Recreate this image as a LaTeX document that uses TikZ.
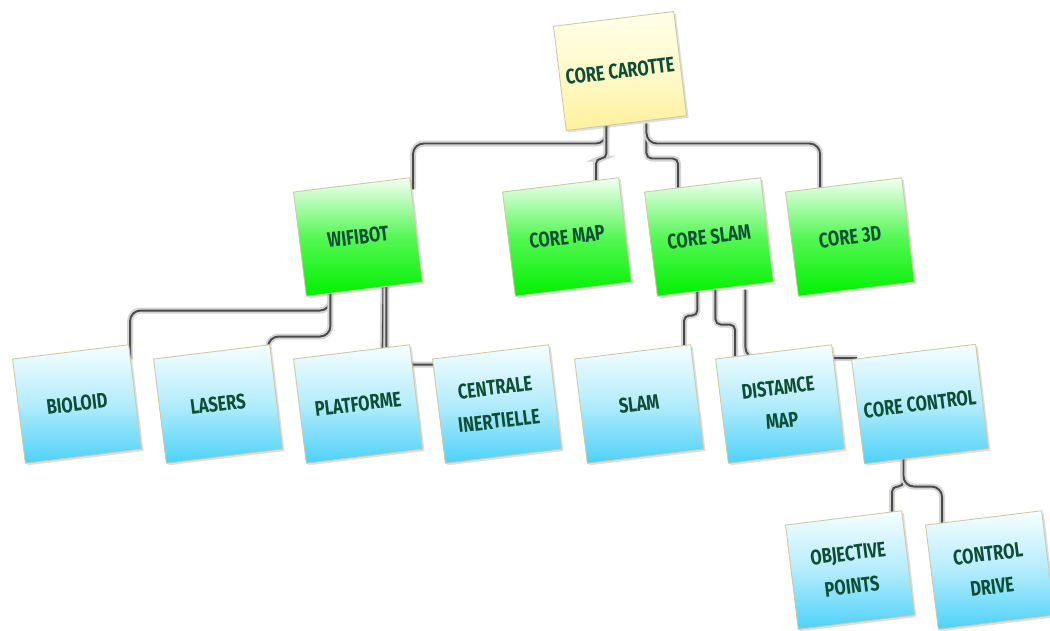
\documentclass[tikz,border=0pt]{standalone}
\usepackage{fontspec}
\newfontfamily\notefont[FakeStretch=0.78]{Fira Sans}
\usepackage{tikz}
\usetikzlibrary{calc, shadows, backgrounds}

\definecolor{notetext}{HTML}{0E4E35}
\definecolor{noteborder}{HTML}{CFC8A6}
\definecolor{yellowtop}{HTML}{FFFEE8}
\definecolor{yellowmid}{HTML}{FFFACB}
\definecolor{yellowbot}{HTML}{FFF09E}
\definecolor{greentop}{HTML}{F4FFF4}
\definecolor{greenmid}{HTML}{55F855}
\definecolor{greenbot}{HTML}{00F000}
\definecolor{bluetop}{HTML}{F6FEFF}
\definecolor{bluemid}{HTML}{B4ECFC}
\definecolor{bluebot}{HTML}{4CD2F9}
\definecolor{linkcore}{HTML}{4A4A4A}
\definecolor{linkhalo}{HTML}{D4D4D4}

\begin{document}
\begin{tikzpicture}[
  x=0.02cm, y=-0.02cm,
  font=\notefont\bfseries\fontsize{12}{19}\selectfont,
  note/.style = {draw=noteborder, line width=0.5pt, rotate=7, minimum width=2.34cm, minimum height=2.1cm,
    align=center, text=notetext, shading=axis, drop shadow={shadow xshift=1.2pt, shadow yshift=-1.2pt, opacity=.25}},
  root/.style = {note, top color=yellowtop, bottom color=yellowbot, middle color=yellowmid},
  module/.style = {note, top color=greentop, bottom color=greenbot, middle color=greenmid},
  part/.style = {note, top color=bluetop, bottom color=bluebot, middle color=bluemid},
  link/.style = {draw=linkcore, line width=1.1pt, rounded corners=6pt, preaction={draw=linkhalo, line width=3.4pt}},
  jog/.style = {link, rounded corners=3pt}
  ]
  \useasboundingbox (0,0) rectangle (1050,631);

  \node[root] (carotte) at (620,71) {CORE CAROTTE};

  \node[module] (wifibot) at (358,237) {WIFIBOT};
  \node[module] (coremap) at (567,237) {CORE MAP};
  \node[module] (coreslam) at (709,237) {CORE SLAM};
  \node[module] (core3d) at (850,237) {CORE 3D};

  \node[part] (bioloid) at (77,404) {BIOLOID};
  \node[part] (lasers) at (218,404) {LASERS};
  \node[part] (platforme) at (358,404) {PLATFORME};
  \node[part] (centrale) at (497,404) {CENTRALE\\INERTIELLE};
  \node[part] (slam) at (639,404) {SLAM};
  \node[part] (distamce) at (780,404) {DISTAMCE\\MAP};
  \node[part] (corecontrol) at (920,404) {CORE CONTROL};

  \node[part] (objective) at (850,570) {OBJECTIVE\\POINTS};
  \node[part] (controldrive) at (990,570) {CONTROL\\DRIVE};

  % links sit behind the notes
  \begin{scope}[on background layer]
    \draw[link] ($(carotte.south)+(-20,0)$) -- ++(0,20) -| ($(wifibot.north east)+(3,12)$);
    \draw[jog] ($(carotte.south)+(-20,0)$) -- ++(0,35) -| ($(coremap.north east)+(-23,7)$);
    \draw[jog] ($(carotte.south)+(20,0)$) -- ++(0,35) -| ($(coreslam.north west)+(34,-2)$);
    \draw[link] ($(carotte.south)+(20,0)$) -- ++(0,20) -| ($(core3d.north west)+(35,-2)$);

    \draw[link] ($(wifibot.south)+(-34,0)$) -- ++(0,21) -| ($(bioloid.north east)+(1,15)$);
    \draw[link] ($(wifibot.south)+(-34,0)$) -- ++(0,47) -| ($(lasers.north east)+(-2,7)$);
    \draw[link] ($(wifibot.south)+(19,-4)$) -- ($(platforme.north)+(31,4)$);
    \draw[link] ($(wifibot.south)+(22,-4)$) |- ($(centrale.north west)+(8,6)$);

    \draw[jog] ($(coreslam.south)+(-18,0)$) -- ++(0,26) -| ($(slam.north east)+(-7,5)$);
    \draw[jog] (coreslam.south) -- ++(0,35) -| ($(distamce.north west)+(20,1)$);
    \draw[link] ($(coreslam.south)+(30,0)$) |- ($(corecontrol.north west)+(6,-1)$);

    \draw[jog] ($(corecontrol.south)+(-23,0)$) -- ++(0,30) -| ($(objective.north east)+(-10,4)$);
    \draw[link] ($(corecontrol.south)+(-23,0)$) -- ++(0,30) -| ($(controldrive.north west)+(17,3)$);
  \end{scope}
\end{tikzpicture}
\end{document}
